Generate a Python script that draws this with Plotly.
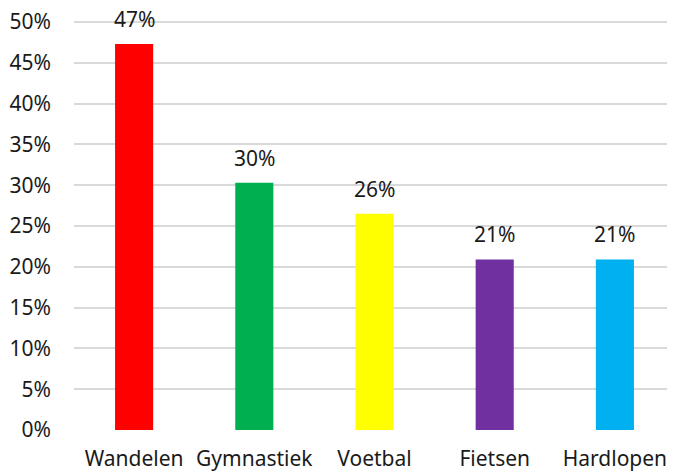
import plotly.graph_objects as go

categories = ["Wandelen", "Gymnastiek", "Voetbal", "Fietsen", "Hardlopen"]
values = [0.473, 0.303, 0.265, 0.209, 0.209]
value_labels = ["47%", "30%", "26%", "21%", "21%"]
colors = ["#FF0000", "#00B050", "#FFFF00", "#7030A0", "#00B0F0"]
y_ticks = [0, 0.05, 0.10, 0.15, 0.20, 0.25, 0.30, 0.35, 0.40, 0.45, 0.50]
y_tick_text = ["0%", "5%", "10%", "15%", "20%", "25%", "30%", "35%", "40%", "45%", "50%"]

font_family = "Noto Sans, Open Sans, sans-serif"
fsize = 21

fig = go.Figure()
fig.add_trace(go.Bar(
    x=categories,
    y=values,
    marker=dict(color=colors, line=dict(width=0)),
    width=0.317,
    hoverinfo="skip",
))

for c, v, t in zip(categories, values, value_labels):
    fig.add_annotation(
        x=c, y=v, text=t, showarrow=False,
        yanchor="middle", yshift=25,
        font=dict(family=font_family, size=fsize, color="#1a1a1a"),
    )

fig.update_layout(
    width=667, height=464,
    margin=dict(l=66, r=0, t=10, b=42, autoexpand=False),
    paper_bgcolor="white", plot_bgcolor="white",
    showlegend=False,
    font=dict(family=font_family, size=fsize, color="#1a1a1a"),
)
fig.update_yaxes(
    range=[0, 0.505], tickvals=y_ticks, ticktext=y_tick_text,
    showgrid=True, gridcolor="#D9D9D9", gridwidth=1.5,
    zeroline=False, showline=False, ticks="",
    ticklabelstandoff=22, automargin=False,
    ticklabeloverflow="allow",
    tickfont=dict(size=fsize),
)
fig.update_xaxes(
    showgrid=False, showline=False, ticks="", zeroline=False,
    ticklabelstandoff=14, automargin=False,
    tickfont=dict(size=fsize),
)

fig.write_html("out.html")
